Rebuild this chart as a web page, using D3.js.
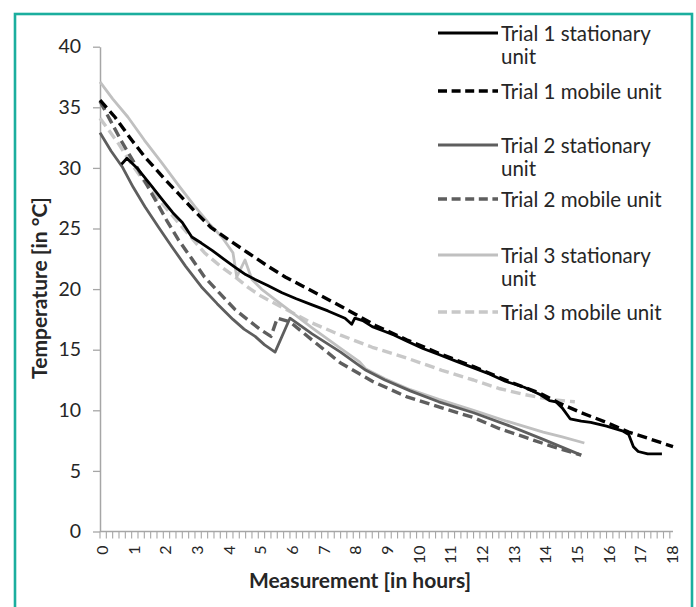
<!DOCTYPE html>
<html>
<head>
<meta charset="utf-8">
<script src="https://cdn.jsdelivr.net/npm/d3@7/dist/d3.min.js"></script>
<style>
  html, body { margin: 0; padding: 0; background: #fff; }
  svg { display: block; }
  text { font-family: Lato, "Open Sans", sans-serif; fill: #262626; }
</style>
</head>
<body>
<svg id="chart" width="696" height="607"></svg>
<script>
// ---- Data (hours, °C) ----
const t1Stationary = [[0.68,30.3],[0.85,30.8],[1.2,29.9],[1.6,28.6],[1.96,27.4],[2.3,26.3],[2.6,25.5],[2.9,24.3],[3.2,23.8],[3.54,23.2],[3.9,22.5],[4.27,21.8],[4.6,21.2],[4.9,20.8],[5.3,20.3],[5.75,19.7],[6.2,19.2],[6.7,18.7],[7.2,18.2],[7.74,17.6],[7.95,17.1],[8.05,17.6],[8.3,17.4],[8.6,16.9],[9.0,16.5],[9.3,16.2],[9.7,15.7],[10.2,15.1],[10.7,14.6],[11.2,14.1],[11.8,13.5],[12.3,13.0],[12.8,12.4],[13.4,11.9],[13.9,11.3],[14.2,10.8],[14.4,10.7],[14.6,10.2],[14.85,9.3],[15.2,9.1],[15.5,9.0],[16.0,8.7],[16.5,8.3],[16.7,8.0],[16.85,7.0],[17.0,6.6],[17.3,6.4],[17.75,6.4]];
const t1Mobile = [[0,35.6],[0.47,34.2],[1.0,32.3],[1.42,30.9],[2.0,29.2],[2.47,27.9],[3.0,26.4],[3.5,25.1],[4.1,24.0],[4.67,23.0],[5.3,21.9],[5.85,21.0],[6.8,19.7],[7.74,18.4],[8.7,17.0],[9.7,15.8],[10.8,14.6],[11.8,13.6],[12.9,12.4],[13.9,11.4],[14.5,10.6],[15.2,9.8],[16.0,9.0],[16.7,8.2],[17.3,7.7],[18.1,7.0]];
const t2Stationary = [[0,32.9],[0.35,31.4],[0.7,30.1],[1.05,28.4],[1.42,26.8],[1.85,25.1],[2.27,23.5],[2.7,21.9],[3.2,20.2],[3.7,18.8],[4.2,17.5],[4.55,16.7],[4.9,16.1],[5.2,15.4],[5.53,14.8],[6.0,17.6],[6.7,16.3],[7.6,14.8],[8.4,13.3],[9.0,12.5],[9.8,11.6],[10.7,10.7],[11.8,9.8],[12.85,8.8],[14.0,7.6],[15.2,6.3]];
const t2Mobile = [[0,35.5],[0.35,33.8],[0.7,32.1],[1.2,29.9],[1.74,27.4],[2.1,25.7],[2.47,24.1],[2.9,22.5],[3.3,21.0],[3.8,19.6],[4.27,18.3],[4.7,17.4],[5.1,16.6],[5.4,16.1],[5.6,17.6],[6.0,17.3],[6.7,15.8],[7.6,13.9],[8.6,12.4],[9.7,11.1],[10.8,10.2],[11.8,9.4],[12.6,8.5],[13.4,7.8],[14.3,7.0],[15.2,6.3]];
const t3Stationary = [[0,37.1],[0.4,35.7],[0.88,34.2],[1.4,32.3],[1.96,30.4],[2.5,28.5],[3.0,26.8],[3.45,25.4],[3.85,24.3],[4.2,23.0],[4.32,21.0],[4.58,22.4],[4.8,20.8],[5.1,20.0],[5.5,19.2],[6.0,18.2],[6.7,16.8],[7.6,15.1],[8.2,14.0],[8.4,13.4],[9.0,12.6],[9.8,11.7],[10.7,10.9],[11.8,10.0],[12.85,9.1],[14.0,8.2],[14.6,7.8],[15.3,7.3]];
const t3Mobile = [[0,34.1],[0.56,32.1],[1.0,30.3],[1.42,28.8],[1.95,27.1],[2.47,25.5],[2.9,24.2],[3.3,23.0],[3.8,21.9],[4.27,21.0],[4.7,20.1],[5.1,19.4],[5.75,18.5],[6.7,17.2],[7.6,16.2],[8.6,15.2],[9.7,14.3],[10.8,13.3],[11.8,12.5],[12.6,11.8],[13.4,11.3],[14.2,10.9],[15.0,10.7]];

const seriesNames = ["Trial 1 stationary unit","Trial 1 mobile unit","Trial 2 stationary unit","Trial 2 mobile unit","Trial 3 stationary unit","Trial 3 mobile unit"];
const xTickLabels = d3.range(0, 19);          // 0..18 hours
const yTickLabels = [0, 5, 10, 15, 20, 25, 30, 35, 40];

// ---- Styles ----
const styles = [
  {data: t1Stationary, color: "#000000", dash: null,   width: 2.8, legendLines: ["Trial 1 stationary", "unit"]},
  {data: t1Mobile,     color: "#000000", dash: "10,5", width: 3.4, legendLines: ["Trial 1 mobile unit"]},
  {data: t2Stationary, color: "#5e5e5e", dash: null,   width: 2.8, legendLines: ["Trial 2 stationary", "unit"]},
  {data: t2Mobile,     color: "#5e5e5e", dash: "10,5", width: 3.4, legendLines: ["Trial 2 mobile unit"]},
  {data: t3Stationary, color: "#c0c0c0", dash: null,   width: 2.8, legendLines: ["Trial 3 stationary", "unit"]},
  {data: t3Mobile,     color: "#c8c8c8", dash: "10,5", width: 3.4, legendLines: ["Trial 3 mobile unit"]}
];
const legendY = [33, 91, 145, 199, 255, 312];

const svg = d3.select("#chart");

// frame
svg.append("rect").attr("x", 15).attr("y", 14).attr("width", 677).attr("height", 620)
  .attr("fill", "none").attr("stroke", "#1bae9e").attr("stroke-width", 2.6);

const x = d3.scaleLinear().domain([0, 18.1]).range([100, 673]);
const y = d3.scaleLinear().domain([0, 40]).range([531.5, 46.7]);
const axisColor = "#a6a6a6";

// y axis
const yAxis = svg.append("g").attr("transform", "translate(100,0)")
  .call(d3.axisLeft(y).tickValues(yTickLabels).tickSize(7).tickSizeOuter(0).tickPadding(12));
yAxis.select(".domain").attr("stroke", axisColor).attr("stroke-width", 1.5);
yAxis.selectAll(".tick line").attr("stroke", axisColor).attr("stroke-width", 1.3);
yAxis.selectAll(".tick text").attr("font-size", 19.5).attr("font-family", "Lato, sans-serif").attr("fill", "#262626");

// x axis: minor ticks every 0.2 h, labels at each hour
const xAxisG = svg.append("g").attr("transform", "translate(0,531.5)");
xAxisG.append("line").attr("x1", 100).attr("x2", 673).attr("stroke", axisColor).attr("stroke-width", 1.5);
const minor = d3.range(0, 91).map(i => i * 0.2);
xAxisG.selectAll("line.minor").data(minor).join("line").attr("class", "minor")
  .attr("x1", d => x(d)).attr("x2", d => x(d)).attr("y1", 0).attr("y2", 7)
  .attr("stroke", axisColor).attr("stroke-width", 1.1);
xAxisG.selectAll("text.xl").data(xTickLabels).join("text").attr("class", "xl")
  .attr("transform", d => `translate(${x(d) + 1.5},14) rotate(-90)`)
  .attr("text-anchor", "end").attr("dominant-baseline", "central")
  .attr("font-size", 16).text(d => d);

// axis titles
svg.append("text").attr("transform", "translate(38,288) rotate(-90)")
  .attr("text-anchor", "middle").attr("dominant-baseline", "central")
  .attr("font-size", 21).attr("font-weight", "bold").text("Temperature [in °C]");
svg.append("text").attr("x", 360).attr("y", 579)
  .attr("text-anchor", "middle").attr("dominant-baseline", "central")
  .attr("font-size", 21).attr("font-weight", "bold").text("Measurement [in hours]");

// lines
const line = d3.line().x(d => x(d[0])).y(d => y(d[1]));
// draw light ones first so dark remain on top
const order = [5, 4, 3, 2, 1, 0];
order.forEach(i => {
  const s = styles[i];
  svg.append("path").datum(s.data).attr("d", line)
    .attr("fill", "none").attr("stroke", s.color).attr("stroke-width", s.width)
    .attr("stroke-dasharray", s.dash).attr("stroke-linejoin", "round");
});

// legend
styles.forEach((s, i) => {
  const g = svg.append("g").attr("transform", `translate(0,${legendY[i]})`);
  g.append("line").attr("x1", 438).attr("x2", 498).attr("y1", 0).attr("y2", 0)
    .attr("stroke", s.color).attr("stroke-width", s.dash ? 3.4 : 3)
    .attr("stroke-dasharray", s.dash ? "9,4.6" : null);
  s.legendLines.forEach((t, j) => {
    g.append("text").attr("x", 501).attr("y", j * 23).attr("dominant-baseline", "central")
      .attr("font-size", 20.5).text(t);
  });
});
</script>
</body>
</html>
